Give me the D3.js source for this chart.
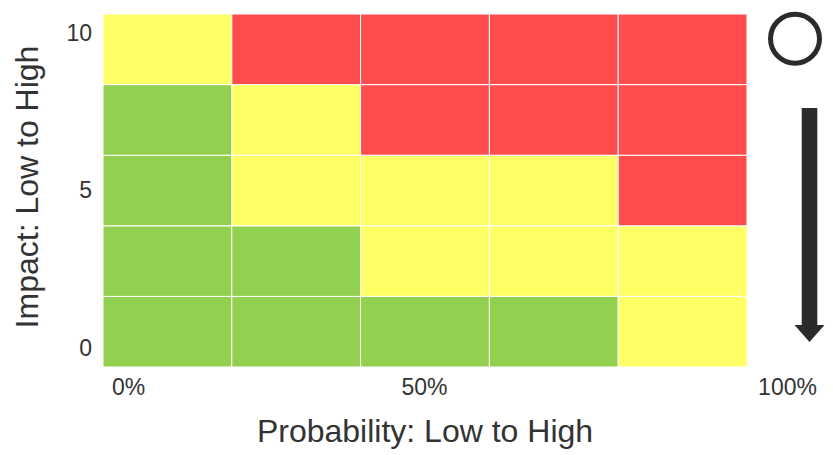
<!DOCTYPE html>
<html>
<head>
<meta charset="utf-8">
<script src="https://cdn.jsdelivr.net/npm/d3@7"></script>
<style>
  html, body { margin: 0; padding: 0; background: #fff; }
  svg { display: block; font-family: "Liberation Sans", Arial, sans-serif; }
</style>
</head>
<body>
<svg id="chart" width="833" height="455"></svg>
<script>
// Data
const probabilityCols = [0, 1, 2, 3, 4];        // low -> high
const impactRows = [0, 1, 2, 3, 4];             // low -> high
// risk level per cell, rows listed from low impact (bottom) to high impact (top)
const riskRow0 = ["G", "G", "G", "G", "Y"];
const riskRow1 = ["G", "G", "Y", "Y", "Y"];
const riskRow2 = ["G", "Y", "Y", "Y", "R"];
const riskRow3 = ["G", "Y", "R", "R", "R"];
const riskRow4 = ["Y", "R", "R", "R", "R"];
const riskRows = [riskRow0, riskRow1, riskRow2, riskRow3, riskRow4];
const yTickValues = [0, 5, 10];
const xTickValues = [0, 50, 100];
const xTickLabels = ["0%", "50%", "100%"];

const levelColor = { G: "#92D050", Y: "#FFFF66", R: "#FF4D4D" };
const textColor = "#333333";

const svg = d3.select("#chart");

const x = d3.scaleBand().domain(probabilityCols).range([103, 747]).padding(0);
const y = d3.scaleBand().domain(impactRows).range([367, 14]).padding(0);

const cells = [];
riskRows.forEach((row, ri) => row.forEach((lvl, ci) => cells.push({ r: impactRows[ri], c: probabilityCols[ci], lvl })));

svg.append("g").selectAll("rect").data(cells).join("rect")
  .attr("x", d => x(d.c))
  .attr("y", d => y(d.r))
  .attr("width", x.bandwidth())
  .attr("height", y.bandwidth())
  .attr("fill", d => levelColor[d.lvl])
  .attr("stroke", "#ffffff")
  .attr("stroke-width", 1);

// Y axis tick labels
const yTick = d3.scaleLinear().domain([0, 10]).range([348, 33]);
const yAxis = svg.append("g").attr("transform", "translate(92,0)")
  .call(d3.axisLeft(yTick).tickValues(yTickValues).tickSize(0).tickPadding(0).tickFormat(d3.format("d")));
yAxis.select(".domain").remove();
yAxis.selectAll("text").attr("font-size", 23).attr("fill", textColor)
  .attr("font-family", "Liberation Sans, Arial, sans-serif");

// X axis tick labels
const xTick = d3.scaleLinear().domain([0, 50, 100]).range([128, 424, 787]);
const xAxis = svg.append("g").attr("transform", "translate(0,395)")
  .call(d3.axisBottom(xTick).tickValues(xTickValues).tickSize(0).tickFormat((d, i) => xTickLabels[i]));
xAxis.select(".domain").remove();
xAxis.selectAll("text").attr("y", 0).attr("dy", 0).attr("font-size", 23).attr("fill", textColor)
  .attr("font-family", "Liberation Sans, Arial, sans-serif");

// Axis titles
svg.append("text")
  .attr("x", 425).attr("y", 442)
  .attr("text-anchor", "middle")
  .attr("font-size", 32).attr("fill", textColor)
  .text("Probability: Low to High");

svg.append("text")
  .attr("transform", "translate(38,187) rotate(-90)")
  .attr("text-anchor", "middle")
  .attr("font-size", 32).attr("fill", textColor)
  .text("Impact: Low to High");

// Circle indicator
svg.append("circle")
  .attr("cx", 795).attr("cy", 38.7).attr("r", 24.5)
  .attr("fill", "none").attr("stroke", "#2b2b2b").attr("stroke-width", 5);

// Down arrow
const ax = 809.5;
svg.append("path")
  .attr("d", `M${ax - 7.8},108 L${ax + 7.8},108 L${ax + 7.8},325 L${ax + 15},325 L${ax},342 L${ax - 15},325 L${ax - 7.8},325 Z`)
  .attr("fill", "#2b2b2b");
</script>
</body>
</html>
